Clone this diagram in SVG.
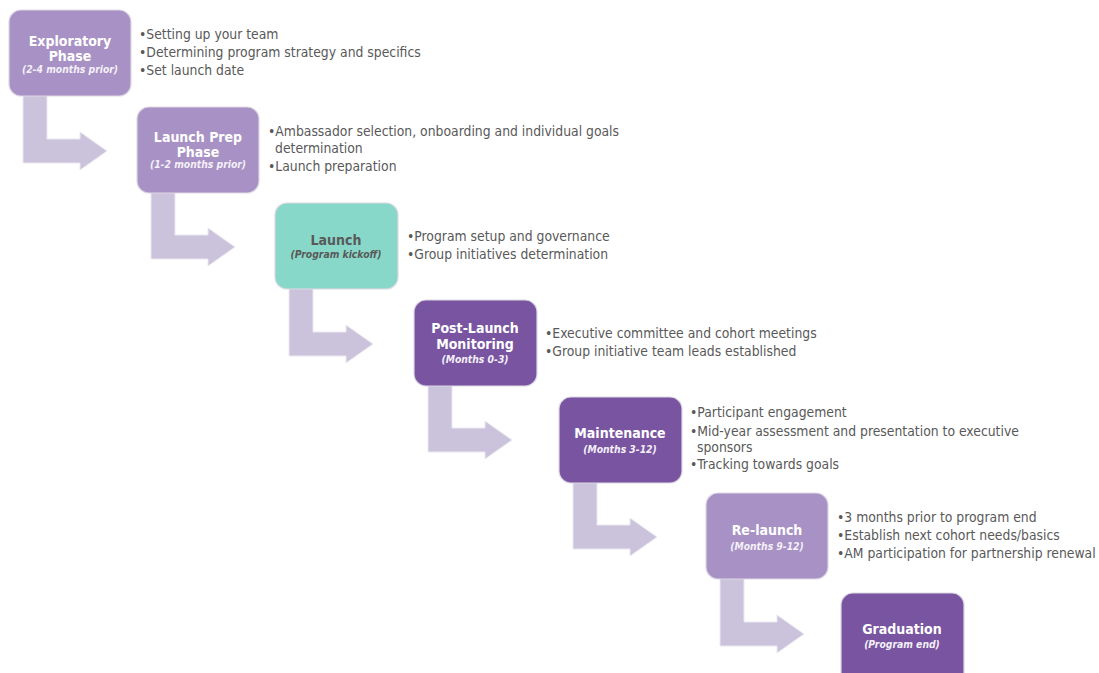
<svg xmlns="http://www.w3.org/2000/svg" width="1099" height="673" viewBox="0 0 1099 673">
  <style>
    .box { stroke: #ddd8e4; stroke-width: 1.2; }
    .light { fill: #a891c4; }
    .teal { fill: #88d8c9; }
    .dark { fill: #7954a1; }
    .arrow { fill: #cbc3db; stroke: #ebe8f0; stroke-width: 1; }
    .title { font-family: "DejaVu Sans Condensed", "DejaVu Sans", sans-serif; font-stretch: condensed; font-weight: bold; font-size: 14px; fill: #ffffff; text-anchor: middle; }
    .sub { font-family: "DejaVu Sans Condensed", "DejaVu Sans", sans-serif; font-stretch: condensed; font-weight: bold; font-style: italic; font-size: 10.3px; fill: #f4f0f8; text-anchor: middle; }
    .grey { fill: #595959; }
    .bul { font-family: "DejaVu Sans Condensed", "DejaVu Sans", sans-serif; font-stretch: condensed; font-size: 13.8px; fill: #595959; }
  </style>
  <rect width="1099" height="673" fill="#ffffff"/>

  <!-- bent arrows between phases -->
  <g id="connectors">
    <polygon class="arrow" points="23,95 47,95 47,139 80,139 80,132 107,151 80,170 80,163 23,163"/>
    <polygon class="arrow" points="151,191 175,191 175,235 208,235 208,228 235,247 208,266 208,259 151,259"/>
    <polygon class="arrow" points="289,288 313,288 313,332 346,332 346,325 373,344 346,363 346,356 289,356"/>
    <polygon class="arrow" points="428,384 452,384 452,428 485,428 485,421 512,440 485,459 485,452 428,452"/>
    <polygon class="arrow" points="573,481 597,481 597,525 630,525 630,518 657,537 630,556 630,549 573,549"/>
    <polygon class="arrow" points="720,578 744,578 744,622 777,622 777,615 804,634 777,653 777,646 720,646"/>
  </g>

  <g id="exploratory">
    <rect class="box light" x="9" y="10" width="122" height="86" rx="12"/>
    <text class="title" x="70" y="46">Exploratory</text>
    <text class="title" x="70" y="61">Phase</text>
    <text class="sub" x="70" y="73">(2-4 months prior)</text>
    <text class="bul" x="139" y="39">•Setting up your team</text>
    <text class="bul" x="139" y="57">•Determining program strategy and specifics</text>
    <text class="bul" x="139" y="75">•Set launch date</text>
  </g>

  <g id="launch-prep">
    <rect class="box light" x="137" y="107" width="122" height="86" rx="12"/>
    <text class="title" x="198" y="142">Launch Prep</text>
    <text class="title" x="198" y="157">Phase</text>
    <text class="sub" x="198" y="168">(1-2 months prior)</text>
    <text class="bul" x="268" y="136">•Ambassador selection, onboarding and individual goals</text>
    <text class="bul" x="275" y="153">determination</text>
    <text class="bul" x="268" y="171">•Launch preparation</text>
  </g>

  <g id="launch">
    <rect class="box teal" x="275" y="203" width="123" height="86" rx="12"/>
    <text class="title grey" x="336" y="245">Launch</text>
    <text class="sub grey" x="336" y="258">(Program kickoff)</text>
    <text class="bul" x="407" y="241">•Program setup and governance</text>
    <text class="bul" x="407" y="259">•Group initiatives determination</text>
  </g>

  <g id="post-launch">
    <rect class="box dark" x="414" y="300" width="123" height="86" rx="12"/>
    <text class="title" x="475" y="333">Post-Launch</text>
    <text class="title" x="475" y="349">Monitoring</text>
    <text class="sub" x="475" y="363">(Months 0-3)</text>
    <text class="bul" x="545" y="338">•Executive committee and cohort meetings</text>
    <text class="bul" x="545" y="356">•Group initiative team leads established</text>
  </g>

  <g id="maintenance">
    <rect class="box dark" x="559" y="397" width="123" height="86" rx="12"/>
    <text class="title" x="620" y="438">Maintenance</text>
    <text class="sub" x="620" y="453">(Months 3-12)</text>
    <text class="bul" x="690" y="417">•Participant engagement</text>
    <text class="bul" x="690" y="436">•Mid-year assessment and presentation to executive</text>
    <text class="bul" x="697" y="452">sponsors</text>
    <text class="bul" x="690" y="469">•Tracking towards goals</text>
  </g>

  <g id="relaunch">
    <rect class="box light" x="706" y="493" width="122" height="86" rx="12"/>
    <text class="title" x="767" y="535">Re-launch</text>
    <text class="sub" x="767" y="550">(Months 9-12)</text>
    <text class="bul" x="837" y="522">•3 months prior to program end</text>
    <text class="bul" x="837" y="540">•Establish next cohort needs/basics</text>
    <text class="bul" x="837" y="558">•AM participation for partnership renewal</text>
  </g>

  <g id="graduation">
    <rect class="box dark" x="841" y="593" width="123" height="92" rx="12"/>
    <text class="title" x="902" y="634">Graduation</text>
    <text class="sub" x="902" y="648">(Program end)</text>
  </g>
</svg>
